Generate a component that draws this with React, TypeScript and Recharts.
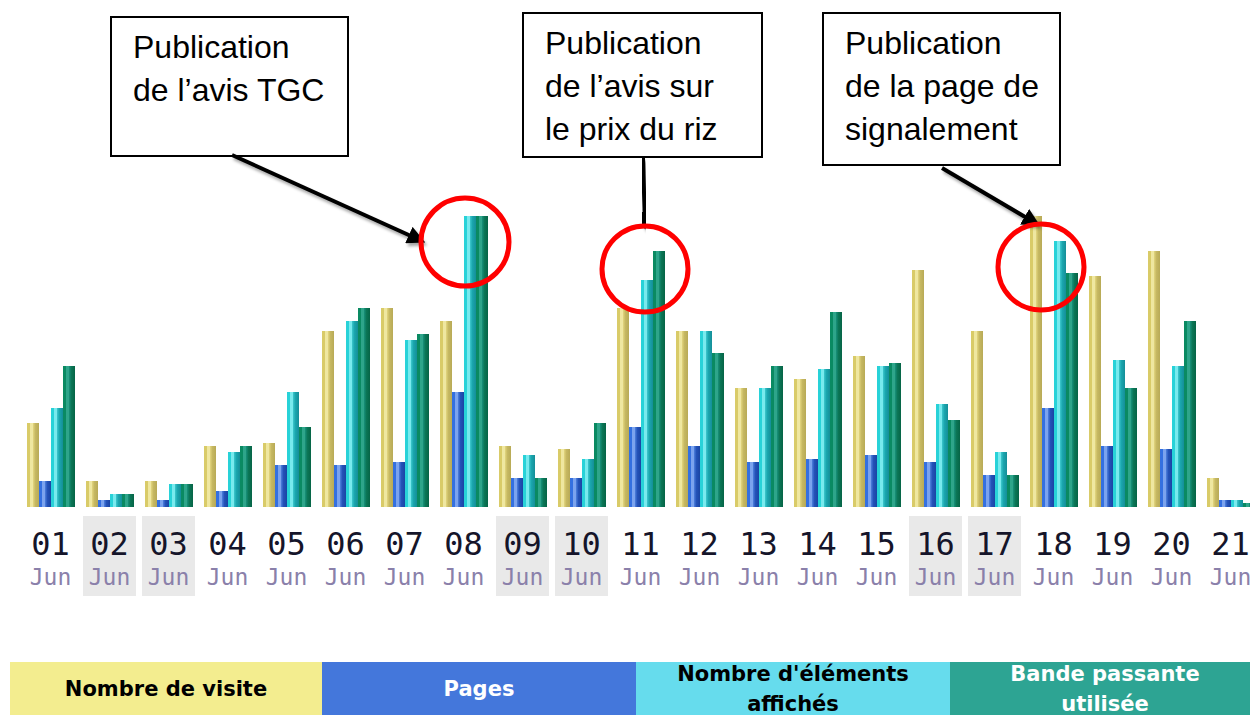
import { Bar, BarChart, Legend, XAxis, YAxis } from 'recharts'

const JOURS = ['01', '02', '03', '04', '05', '06', '07', '08', '09', '10', '11', '12', '13', '14', '15', '16', '17', '18', '19', '20', '21']
const WEEKEND = ['02', '03', '09', '10', '16', '17']
const VISITES = [84, 26, 26, 61, 64, 176, 199, 186, 61, 58, 199, 176, 119, 128, 151, 237, 176, 291, 231, 256, 29]
const PAGES = [26, 7, 7, 16, 42, 42, 45, 115, 29, 29, 80, 61, 45, 48, 52, 45, 32, 99, 61, 58, 7]
const ELEMENTS = [99, 13, 23, 55, 115, 186, 167, 291, 52, 48, 227, 176, 119, 138, 141, 103, 55, 266, 147, 141, 7]
const BANDE = [141, 13, 23, 61, 80, 199, 173, 291, 29, 84, 256, 154, 141, 195, 144, 87, 32, 234, 119, 186, 4]

const SERIES = [
  { cle: 'visites', label: 'Nombre de visite', fond: '#f3ed8f', texte: '#000', largeur: 312, stops: ['#d9cb68', '#efe7a0', '#e2d57e', '#c6b862', '#b8aa56'] },
  { cle: 'pages', label: 'Pages', fond: '#4477db', texte: '#fff', largeur: 314, stops: ['#3470e0', '#7ba3ee', '#4d7fdc', '#2452b8', '#1a44a4'] },
  { cle: 'elements', label: "Nombre d'éléments\naffichés", fond: '#66dced', texte: '#000', largeur: 314, stops: ['#28d2d8', '#78eaee', '#3cc6cc', '#1aa6ae', '#158e98'] },
  { cle: 'bande', label: 'Bande passante\nutilisée', fond: '#2da493', texte: '#fff', largeur: 310, stops: ['#0a8a62', '#2ea58a', '#18907a', '#0b7656', '#066446'] },
]

const donnees = JOURS.map((jour, i) => ({
  jour,
  visites: VISITES[i],
  pages: PAGES[i],
  elements: ELEMENTS[i],
  bande: BANDE[i],
}))

const ANNOTATIONS = [
  { x: 111, y: 17, w: 237, h: 139, lignes: ['Publication', 'de l\u2019avis TGC'] },
  { x: 523, y: 13, w: 239, h: 144, lignes: ['Publication', 'de l\u2019avis sur', 'le prix du riz'] },
  { x: 823, y: 13, w: 237, h: 152, lignes: ['Publication', 'de la page de', 'signalement'] },
]
const FLECHES = [
  { x1: 232, y1: 155, x2: 422, y2: 241 },
  { x1: 643, y1: 158, x2: 645, y2: 226 },
  { x1: 942, y1: 168, x2: 1037, y2: 224 },
]
const CERCLES = [
  { cx: 465, cy: 242, r: 44 },
  { cx: 645, cy: 269, r: 43 },
  { cx: 1041, cy: 267, r: 43 },
]

function JourTick({ x, y, payload }: any) {
  const weekend = WEEKEND.includes(payload.value)
  return (
    <g>
      {weekend && <rect x={x - 26.5} y={y + 9} width={53} height={80} fill="#e9e9e9" />}
      <text x={x} y={y + 48} textAnchor="middle" fontFamily="DejaVu Sans Mono" fontSize={32} fill="#15152a">
        {payload.value}
      </text>
      <text x={x} y={y + 78} textAnchor="middle" fontFamily="DejaVu Sans Mono" fontSize={23} fill="#8a80aa">
        Jun
      </text>
    </g>
  )
}

function LegendeBlocs() {
  return (
    <div style={{ display: 'flex', height: 53 }}>
      {SERIES.map((s) => (
        <div
          key={s.cle}
          style={{
            width: s.largeur,
            height: 53,
            flex: 'none',
            background: s.fond,
            color: s.texte,
            display: 'flex',
            alignItems: 'center',
            justifyContent: 'center',
            textAlign: 'center',
            whiteSpace: 'pre-line',
            fontFamily: 'DejaVu Sans',
            fontWeight: 'bold',
            fontSize: 21,
            lineHeight: '30px',
          }}
        >
          {s.label}
        </div>
      ))}
    </div>
  )
}

function Annotations() {
  return (
    <svg width={1250} height={715} style={{ position: 'absolute', left: 0, top: 0, pointerEvents: 'none' }}>
      <defs>
        <marker id="pointe" viewBox="0 0 10 10" refX="8" refY="5" markerWidth="4.5" markerHeight="4.5" orient="auto">
          <path d="M0,0 L10,5 L0,10 z" fill="#000" />
        </marker>
        <filter id="ombre" x="-20%" y="-20%" width="140%" height="140%">
          <feDropShadow dx="2" dy="3" stdDeviation="1.5" floodColor="#000" floodOpacity="0.35" />
        </filter>
      </defs>
      {ANNOTATIONS.map((a, i) => (
        <g key={i}>
          <rect x={a.x} y={a.y} width={a.w} height={a.h} fill="#fff" stroke="#000" strokeWidth={2} />
          {a.lignes.map((l, j) => (
            <text key={j} x={a.x + 22} y={a.y + 41 + j * 43} fontFamily="Liberation Sans" fontSize={32} fill="#000">
              {l}
            </text>
          ))}
        </g>
      ))}
      {FLECHES.map((f, i) => (
        <line key={i} x1={f.x1} y1={f.y1} x2={f.x2} y2={f.y2} stroke="#000" strokeWidth={4} markerEnd="url(#pointe)" filter="url(#ombre)" />
      ))}
      {CERCLES.map((c, i) => (
        <circle key={i} cx={c.cx} cy={c.cy} r={c.r} fill="none" stroke="#ff0000" strokeWidth={5} />
      ))}
    </svg>
  )
}

export default function App() {
  return (
    <div style={{ position: 'absolute', left: 0, top: 0, width: 1250, height: 715, overflow: 'hidden', background: '#fff' }}>
      <BarChart
        width={1260}
        height={715}
        data={donnees}
        margin={{ top: 216, right: 0, bottom: 0, left: 21 }}
        barGap={0}
        barSize={12}
      >
        <defs>
          {SERIES.map((s) => (
            <linearGradient key={s.cle} id={`g-${s.cle}`} x1="0" y1="0" x2="1" y2="0">
              <stop offset="0%" stopColor={s.stops[0]} />
              <stop offset="25%" stopColor={s.stops[0]} />
              <stop offset="26%" stopColor={s.stops[1]} />
              <stop offset="50%" stopColor={s.stops[1]} />
              <stop offset="51%" stopColor={s.stops[2]} />
              <stop offset="70%" stopColor={s.stops[3]} />
              <stop offset="100%" stopColor={s.stops[4]} />
            </linearGradient>
          ))}
        </defs>
        <XAxis
          dataKey="jour"
          axisLine={false}
          tickLine={false}
          tickSize={0}
          tickMargin={0}
          height={155}
          interval={0}
          tick={<JourTick />}
        />
        <YAxis hide domain={[0, 291]} />
        <Legend
          verticalAlign="bottom"
          content={<LegendeBlocs />}
          wrapperStyle={{ left: 10, bottom: 0, width: 1250, height: 53 }}
        />
        {SERIES.map((s) => (
          <Bar key={s.cle} dataKey={s.cle} name={s.label} fill={`url(#g-${s.cle})`} isAnimationActive={false} />
        ))}
      </BarChart>
      <Annotations />
    </div>
  )
}
